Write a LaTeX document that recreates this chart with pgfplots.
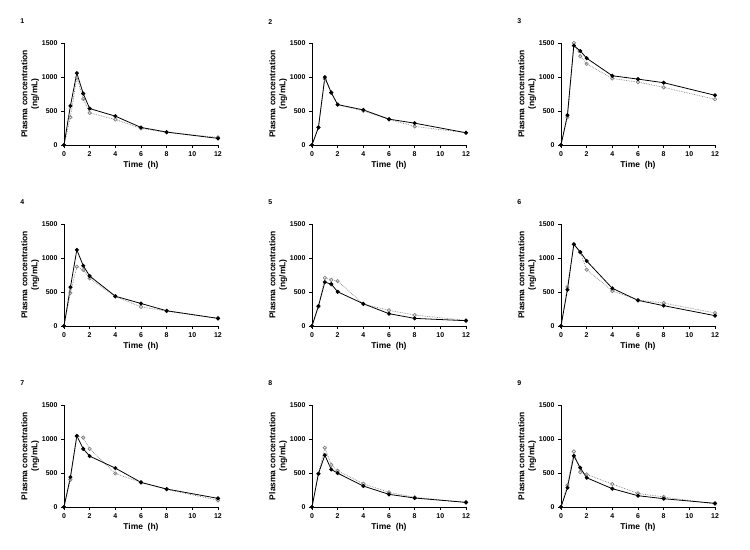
\documentclass[border=0pt]{standalone}
\usepackage{fontspec}
\setmainfont{Liberation Sans}
\usepackage{pgfplots}
\pgfplotsset{compat=1.18}

\pgfplotsset{
  pk/.style={
    anchor=south west, scale only axis, width=154bp, height=102bp,
    axis lines=left, axis line style={-, line width=0.8pt},
    xmin=0, xmax=12, ymin=0, ymax=1500, enlargelimits=false, clip=false,
    xtick={0,2,4,6,8,10,12}, ytick={0,500,1000,1500},
    tick align=outside, major tick length=3pt, tick style={line width=0.8pt, black},
    /pgf/number format/assume math mode=true,
    /pgf/number format/1000 sep={},
    ticklabel style={font=\bfseries\fontsize{7}{8}\selectfont},
    xlabel={Time\ \ (h)}, ylabel={Plasma concentration\\(ng/mL)},
    label style={font=\bfseries\fontsize{8.5}{10}\selectfont, align=center},
    xlabel style={yshift=2pt},
    ylabel style={yshift=-4pt},
  },
  full/.style={black, line width=0.8pt, mark=*, mark size=1.6pt},
  hollow/.style={gray, line width=0.7pt, densely dotted, mark=o, mark size=1.7pt, mark options={solid}},
}
\tikzset{plab/.style={font=\bfseries\fontsize{7}{8}\selectfont}}

\begin{document}
\begin{tikzpicture}
\useasboundingbox (0,0) rectangle (750bp,550bp);
% row 1
\begin{axis}[pk, at={(64bp,405bp)}]
\addplot[hollow] coordinates {(0,0) (0.5,409) (1,994) (1.5,677) (2,472) (4,375) (6,244) (8,185) (12,112)};
\addplot[full] coordinates {(0,0) (0.5,575) (1,1057) (1.5,755) (2,536) (4,424) (6,258) (8,190) (12,97)};
\node[plab] at (rel axis cs:-0.27,1.21) {1};
\end{axis}
\begin{axis}[pk, at={(312bp,405bp)}]
\addplot[hollow] coordinates {(0,0) (0.5,258) (1,970) (1.5,770) (2,594) (4,502) (6,375) (8,273) (12,180)};
\addplot[full] coordinates {(0,0) (0.5,258) (1,998) (1.5,770) (2,594) (4,516) (6,380) (8,321) (12,180)};
\node[plab] at (rel axis cs:-0.27,1.21) {2};
\end{axis}
\begin{axis}[pk, at={(561bp,405bp)}]
\addplot[hollow] coordinates {(0,0) (0.5,409) (1,1500) (1.5,1305) (2,1193) (4,979) (6,925) (8,847) (12,672)};
\addplot[full] coordinates {(0,0) (0.5,438) (1,1461) (1.5,1383) (2,1276) (4,1018) (6,969) (8,916) (12,731)};
\node[plab] at (rel axis cs:-0.27,1.21) {3};
\end{axis}
% row 2
\begin{axis}[pk, at={(64bp,224bp)}]
\addplot[hollow] coordinates {(0,0) (0.5,487) (1,872) (1.5,823) (2,701) (4,433) (6,282) (8,219) (12,112)};
\addplot[full] coordinates {(0,0) (0.5,570) (1,1120) (1.5,886) (2,735) (4,438) (6,331) (8,224) (12,112)};
\node[plab] at (rel axis cs:-0.27,1.21) {4};
\end{axis}
\begin{axis}[pk, at={(312bp,224bp)}]
\addplot[hollow] coordinates {(0,0) (0.5,283) (1,708) (1.5,679) (2,660) (4,323) (6,230) (8,161) (12,83)};
\addplot[full] coordinates {(0,0) (0.5,293) (1,645) (1.5,616) (2,503) (4,327) (6,181) (8,112) (12,78)};
\node[plab] at (rel axis cs:-0.27,1.21) {5};
\end{axis}
\begin{axis}[pk, at={(561bp,224bp)}]
\addplot[hollow] coordinates {(0,0) (0.5,574) (1,1206) (1.5,1083) (2,828) (4,515) (6,382) (8,338) (12,191)};
\addplot[full] coordinates {(0,0) (0.5,534) (1,1201) (1.5,1088) (2,956) (4,554) (6,377) (8,299) (12,152)};
\node[plab] at (rel axis cs:-0.27,1.21) {6};
\end{axis}
% row 3
\begin{axis}[pk, at={(64bp,43bp)}]
\addplot[hollow] coordinates {(0,0) (0.5,401) (1,1041) (1.5,1021) (2,855) (4,493) (6,362) (8,259) (12,98)};
\addplot[full] coordinates {(0,0) (0.5,440) (1,1045) (1.5,855) (2,748) (4,572) (6,362) (8,264) (12,127)};
\node[plab] at (rel axis cs:-0.27,1.21) {7};
\end{axis}
\begin{axis}[pk, at={(312bp,43bp)}]
\addplot[hollow] coordinates {(0,0) (0.5,489) (1,870) (1.5,620) (2,533) (4,342) (6,215) (8,142) (12,68)};
\addplot[full] coordinates {(0,0) (0.5,489) (1,762) (1.5,552) (2,498) (4,308) (6,186) (8,132) (12,68)};
\node[plab] at (rel axis cs:-0.27,1.21) {8};
\end{axis}
\begin{axis}[pk, at={(561bp,43bp)}]
\addplot[hollow] coordinates {(0,0) (0.5,322) (1,816) (1.5,513) (2,479) (4,337) (6,200) (8,147) (12,44)};
\addplot[full] coordinates {(0,0) (0.5,283) (1,752) (1.5,577) (2,430) (4,269) (6,166) (8,122) (12,54)};
\node[plab] at (rel axis cs:-0.27,1.21) {9};
\end{axis}
\end{tikzpicture}
\end{document}
